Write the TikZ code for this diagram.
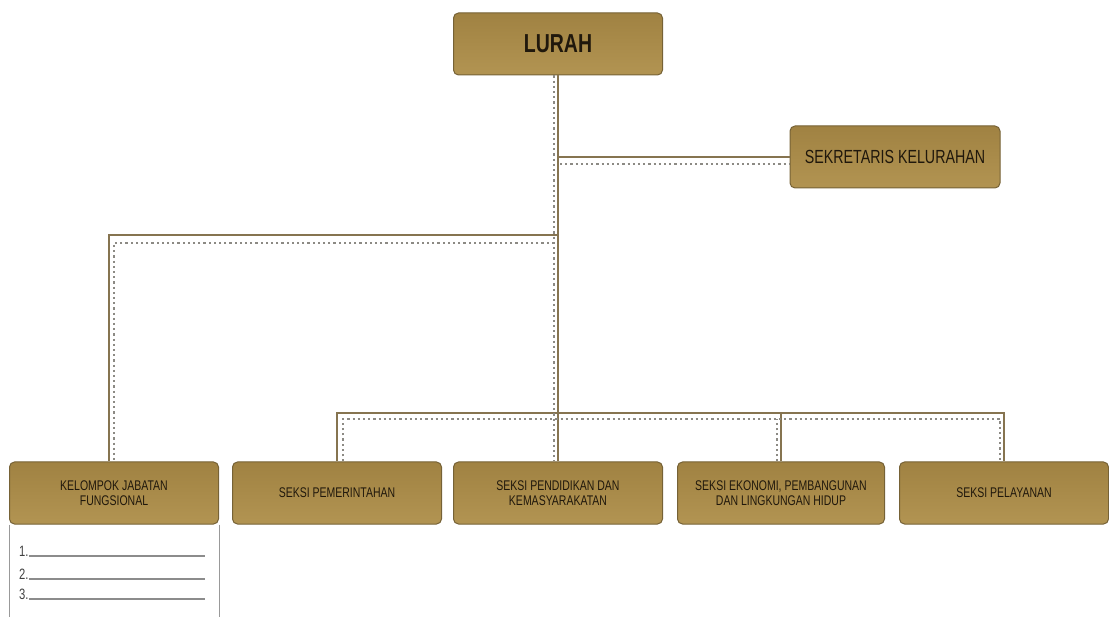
\documentclass[tikz,border=0pt]{standalone}
\usepackage{fontspec}
\newfontfamily\narrowsans[FakeStretch=0.75]{Liberation Sans}
\usetikzlibrary{calc}
\definecolor{goldtop}{RGB}{160,130,66}
\definecolor{goldbot}{RGB}{178,148,82}
\definecolor{goldedge}{RGB}{118,98,54}
\definecolor{linkbrown}{RGB}{134,116,80}
\definecolor{dotgray}{RGB}{140,138,132}
\definecolor{inktext}{RGB}{32,24,12}

\begin{document}
\begin{tikzpicture}[x=1pt,y=-1pt,
    unit/.style={rectangle, rounded corners=5pt, draw=goldedge, line width=1pt,
        top color=goldtop, bottom color=goldbot, minimum width=209pt, minimum height=62pt,
        text=inktext, align=center, inner sep=2pt, font=\narrowsans\fontsize{14}{15}\selectfont},
    link/.style={draw=linkbrown, line width=2.4pt},
    dotlink/.style={draw=dotgray, line width=2.2pt, dash pattern=on 2.2pt off 3pt},
    listnum/.style={inner sep=0pt, text=black!75, font=\narrowsans\fontsize{15}{15}\selectfont},
    listline/.style={draw=black!45, line width=1.2pt}]

    \useasboundingbox (0,0) rectangle (1109,617);

    % head and secretary
    \node[unit, font=\narrowsans\bfseries\fontsize{26}{28}\selectfont] (lurah) at (558,44) {LURAH};
    \node[unit, minimum width=210pt, font=\narrowsans\fontsize{19}{20}\selectfont] (sekkel) at (895,157) {SEKRETARIS KELURAHAN};

    % bottom row
    \node[unit] (kjf) at (114,493) {KELOMPOK JABATAN\\FUNGSIONAL};
    \node[unit] (pem) at (337,493) {SEKSI PEMERINTAHAN};
    \node[unit] (pend) at (558,493) {SEKSI PENDIDIKAN DAN\\KEMASYARAKATAN};
    \node[unit, minimum width=207pt] (ekon) at (781,493) {SEKSI EKONOMI, PEMBANGUNAN\\DAN LINGKUNGAN HIDUP};
    \node[unit] (pel) at (1004,493) {SEKSI PELAYANAN};

    % junctions on the trunk
    \coordinate (sekj) at (558,157);
    \coordinate (kjfj) at (558,235);
    \coordinate (busj) at (558,413);

    % solid lines
    \draw[link] (lurah) -- (pend);
    \draw[link] (sekj) -- (sekkel);
    \draw[link] (kjfj) -| ([xshift=-5pt]kjf.north);
    \draw[link] (pem) |- (busj) -| (pel);
    \draw[link] (ekon) -- (ekon |- busj);

    % dotted lines
    \draw[dotlink] ([xshift=-4pt]lurah.south) -- ([xshift=-4pt]pend.north);
    \draw[dotlink] ([shift={(2,7)}]sekj) -- ([shift={(0,7)}]sekj -| sekkel.west);
    \draw[dotlink] ([shift={(-4,8)}]kjfj) -| (kjf.north);
    \draw[dotlink] ([xshift=6pt]pem.north) |- ([shift={(0,6)}]busj) -| ([xshift=-4pt]pel.north);
    \draw[dotlink] ([xshift=-4pt]ekon.north) -- ([shift={(-4,6)}]ekon.north |- busj);

    % list under the functional group
    \coordinate (listend) at (219,617);
    \draw[draw=black!40, line width=0.8pt] (kjf.south west) -- (kjf.south west |- listend);
    \draw[draw=black!40, line width=0.8pt] (kjf.south east) -- (listend);
    \foreach \n/\y in {1/556,2/579,3/599} {
        \node[listnum, anchor=base west] (num\n) at (19,\y) {\n.};
        \coordinate (lend\n) at (205,\y);
        \draw[listline] (num\n.base east) -- (lend\n);
    }

\end{tikzpicture}
\end{document}
